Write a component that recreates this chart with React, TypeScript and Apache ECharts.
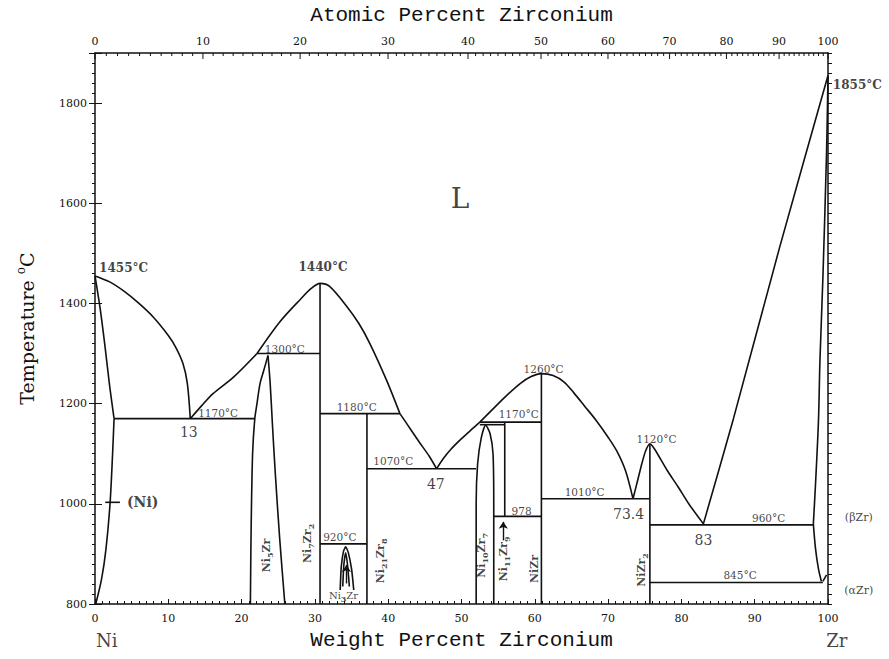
import React, { useEffect, useRef } from 'react';
import * as echarts from 'echarts';

const FONT = 'DejaVu Serif';
const TITLE_FONT = 'Liberation Mono';
const INK = '#111111';

// ---------- axes ----------
const WT_MIN = 0;
const WT_MAX = 100;
const T_MIN = 800;
const T_MAX = 1900;
const atomicTicks = Array.from({ length: 101 }, (_, i) => i); // 1 at.% tick marks on the top axis
const M_NI = 58.693;
const M_ZR = 91.224;
const atToWt = (a: number) => (a <= 0 ? 0 : a >= 100 ? 100 : (100 * a * M_ZR) / (a * M_ZR + (100 - a) * M_NI));

// ---------- phase boundaries: [wt.% Zr, °C] ----------
const niSolidus = [[0, 1455], [0.7, 1390], [1.4, 1310], [2.0, 1235], [2.6, 1170]];
const niSolvus = [[2.6, 1170], [2.4, 1100], [2.05, 1000], [1.5, 910], [0.9, 850], [0.1, 800]];
const liquidusNi = [[0, 1455], [2, 1443], [4, 1424], [6, 1400], [8, 1372], [10, 1336], [11, 1313], [12, 1280], [12.6, 1240], [13, 1170]];
const liquidusE13 = [[13, 1170], [14.5, 1195], [16.1, 1220], [18.9, 1253], [22.1, 1300]];
const liquidusNi7Zr2 = [[22.1, 1300], [25.2, 1363], [28, 1408], [29.5, 1430], [30.7, 1440], [32, 1434], [34.3, 1395], [36, 1360], [37.5, 1320], [39.8, 1246], [41.6, 1180]];
const liquidusE47L = [[41.6, 1180], [43, 1150], [44.3, 1122], [45.6, 1095], [46.6, 1070]];
const liquidusE47R = [[46.6, 1070], [47.5, 1090], [48.5, 1108], [50, 1130], [51.5, 1150], [52.5, 1163]];
const liquidusNiZr = [[52.5, 1163], [54, 1185], [56, 1214], [58, 1240], [59.5, 1254], [60.9, 1260], [62.5, 1256], [64, 1243], [65.3, 1222], [66.8, 1195], [68.4, 1166], [70, 1133], [71.2, 1105], [72.4, 1065], [73.4, 1010]];
const liquidusNiZr2 = [[73.4, 1010], [74, 1045], [74.6, 1080], [75.1, 1105], [75.7, 1120], [76.4, 1108], [78, 1068], [79.5, 1035], [81, 1000], [83, 960]];
const liquidusZr = [[83, 960], [87.1, 1170], [93.4, 1512], [100, 1855]];
const zrSolidus = [[100, 1855], [99.8, 1700], [99.3, 1450], [98.9, 1285], [98.7, 1166], [98.3, 1040], [98.0, 960]];
const zrSolvus = [[98.0, 960], [98.3, 910], [98.7, 870], [99.1, 845]];
const alphaZr = [[99.3, 845], [99.8, 858]];
const ni5ZrLeft = [[23.6, 1296], [23.0, 1265], [22.5, 1239], [22.1, 1200], [21.8, 1170], [21.5, 1100], [21.3, 950], [21.2, 800]];
const ni5ZrRight = [[23.6, 1296], [23.9, 1240], [24.2, 1160], [24.6, 1060], [25.2, 930], [25.9, 800]];
const ni10Zr7Dome = [[52.0, 800], [52.0, 1000], [52.2, 1080], [52.7, 1132], [53.3, 1157], [53.9, 1140], [54.3, 1100], [54.4, 1000], [54.4, 800]];
const ni3ZrOuter = [[33.45, 828], [33.6, 875], [33.9, 905], [34.2, 914], [34.55, 903], [35.0, 870], [35.3, 828]];
const ni3ZrInner = [[33.8, 835], [33.95, 878], [34.2, 902], [34.45, 878], [34.7, 835]];

// isotherms and line compounds
const straightLines = [
  [[2.6, 1170], [21.8, 1170]],
  [[22.1, 1300], [30.7, 1300]],
  [[30.7, 1180], [41.6, 1180]],
  [[37.1, 1070], [52.0, 1070]],
  [[30.7, 920], [37.1, 920]],
  [[52.5, 1163], [60.9, 1163]],
  [[52.5, 1158], [55.9, 1158]],
  [[54.4, 975], [60.9, 975]],
  [[60.9, 1010], [75.7, 1010]],
  [[75.7, 958], [98.0, 958]],
  [[75.7, 843], [99.3, 843]],
  [[30.7, 1440], [30.7, 800]],
  [[37.1, 1180], [37.1, 800]],
  [[55.9, 1163], [55.9, 975]],
  [[60.9, 1260], [60.9, 800]],
  [[75.7, 1120], [75.7, 800]],
  [[1.4, 1003], [3.4, 1003]],
];

// arrows: [wt, from °C, to °C]
const arrows = [[34.3, 841], [34.3, 878], [55.7, 927], [55.7, 964]];

// ---------- annotations ----------
const bigTempLabels = [['1455°C', 3.9, 1470], ['1440°C', 31.1, 1473], ['1855°C', 104.0, 1836]];
const tempLabels = [
  ['1300°C', 25.9, 1310], ['1170°C', 16.8, 1181],
  ['1180°C', 35.7, 1194], ['1070°C', 40.7, 1085], ['920°C', 33.4, 934], ['1260°C', 61.2, 1270],
  ['1170°C', 57.8, 1179], ['978', 58.2, 985], ['1010°C', 66.8, 1023], ['1120°C', 76.6, 1129],
  ['960°C', 91.9, 971], ['845°C', 88.0, 858],
];
const compLabels = [['13', 12.8, 1143], ['47', 46.5, 1039], ['73.4', 72.8, 980], ['83', 83.0, 927]];
const phaseLabels = [
  ['Ni{s|5}Zr', 23.4, 897], ['Ni{s|7}Zr{s|2}', 29.0, 921], ['Ni{s|21}Zr{s|8}', 38.9, 886],
  ['Ni{s|10}Zr{s|7}', 52.75, 897], ['Ni{s|11}Zr{s|9}', 55.7, 890], ['NiZr', 60.0, 870], ['NiZr{s|2}', 74.6, 868],
];
const sideLabels = [['(βZr)', 104.2, 973], ['(αZr)', 104.2, 826]];

const RICH = { s: { fontSize: 8, fontFamily: FONT, fontWeight: 'bold', color: INK, verticalAlign: 'bottom', lineHeight: 15 } };

function buildOption() {
  const lineStyle = { color: INK, width: 1.6 };
  const curve = (data: number[][], smooth: number | boolean = 0.3) => ({
    type: 'line', data, smooth, symbol: 'none', showSymbol: false, silent: true, clip: false,
    lineStyle, z: 3,
  });
  const series: any[] = [
    curve(niSolidus), curve(niSolvus), curve(liquidusNi, 0.3), curve(liquidusE13), curve(liquidusNi7Zr2),
    curve(liquidusE47L), curve(liquidusE47R), curve(liquidusNiZr), curve(liquidusNiZr2, 0.2), curve(liquidusZr, 0.2),
    curve(zrSolidus), curve(zrSolvus), curve(alphaZr, false), curve(ni5ZrLeft), curve(ni5ZrRight),
    curve(ni10Zr7Dome, 0.25), curve(ni3ZrOuter, 0.2), curve(ni3ZrInner, 0.2),
    ...straightLines.map((d) => curve(d, false)),
  ];
  series.push({
    type: 'line', data: [], silent: true,
    markLine: {
      silent: true, symbol: ['none', 'arrow'], symbolSize: 7, label: { show: false },
      lineStyle: { color: INK, width: 1.4, type: 'solid' },
      data: [
        [{ coord: [arrows[0][0], arrows[0][1]] }, { coord: [arrows[1][0], arrows[1][1]] }],
        [{ coord: [arrows[2][0], arrows[2][1]] }, { coord: [arrows[3][0], arrows[3][1]] }],
        [{ coord: [101.0, 826] }, { coord: [100.2, 826] }],
        [{ coord: [100, 973], symbol: 'none' }, { coord: [101.3, 973], symbol: 'none' }],
      ],
    },
  });
  // top axis (atomic percent) ticks
  series.push({
    type: 'custom', silent: true, clip: false, z: 5,
    data: atomicTicks.map((a) => [atToWt(a), a]),
    renderItem: (_p: any, api: any) => {
      const wt = api.value(0);
      const a = api.value(1);
      const pt = api.coord([wt, T_MAX]);
      const major = a % 10 === 0;
      const children: any[] = [
        { type: 'line', shape: { x1: pt[0], y1: pt[1], x2: pt[0], y2: pt[1] + (major ? 6 : 3) }, style: { stroke: INK, lineWidth: 1 } },
      ];
      if (major) {
        children.push({ type: 'text', x: pt[0], y: pt[1] - 6, style: { text: String(a), align: 'center', verticalAlign: 'bottom', fontSize: 11, fontFamily: FONT, fill: INK } });
      }
      return { type: 'group', children };
    },
  });
  const label = (text: string, wt: number, t: number, opts: any = {}) => ({
    value: [wt, t],
    label: {
      show: true, position: 'inside', formatter: text, color: INK, fontFamily: FONT,
      fontSize: 10, rich: RICH, ...opts,
    },
  });
  const annData = [
    label('L', 49.8, 1610, { fontSize: 28 }),
    ...bigTempLabels.map(([s, w, t]) => label(s as string, w as number, t as number, { fontSize: 12, fontWeight: 'bold' })),
    ...tempLabels.map(([s, w, t]) => label(s as string, w as number, t as number, { fontSize: 10.5 })),
    ...compLabels.map(([s, w, t]) => label(s as string, w as number, t as number, { fontSize: 14 })),
    ...phaseLabels.map(([s, w, t]) => label(s as string, w as number, t as number, { fontSize: 11, fontWeight: 'bold', rotate: 90, lineHeight: 15 })),
    label('Ni{s|3}Zr', 33.9, 816, { fontSize: 10, lineHeight: 13 }),
    label('(Ni)', 6.5, 1003, { fontSize: 14, fontWeight: 'bold' }),
    ...sideLabels.map(([s, w, t]) => label(s as string, w as number, t as number, { fontSize: 11 })),
    label('Ni', 1.6, 728, { fontSize: 18 }),
    label('Zr', 101.2, 728, { fontSize: 18 }),
  ];
  series.push({ type: 'scatter', symbolSize: 0, silent: true, clip: false, z: 6, data: annData });

  const axisFont = { fontSize: 11, fontFamily: FONT, color: INK };
  const nameFont = { fontSize: 21, fontFamily: TITLE_FONT, color: INK };
  const yBase = { type: 'value', min: T_MIN, max: T_MAX, splitLine: { show: false } };
  return {
    animation: false,
    backgroundColor: '#fff',
    grid: { left: 95, right: 61, top: 52, bottom: 55, containLabel: false },
    xAxis: [
      {
        type: 'value', position: 'bottom', min: WT_MIN, max: WT_MAX, interval: 10,
        axisLine: { show: true, onZero: false, lineStyle: { color: INK, width: 1.5 } },
        axisTick: { show: true, inside: true, length: 5, lineStyle: { color: INK } },
        minorTick: { show: true, splitNumber: 10, length: 3, lineStyle: { color: INK } },
        axisLabel: { ...axisFont, margin: 9 }, splitLine: { show: false },
        name: 'Weight Percent Zirconium', nameLocation: 'middle', nameGap: 26, nameTextStyle: nameFont,
      },
      {
        type: 'value', position: 'top', min: WT_MIN, max: WT_MAX,
        axisLine: { show: true, onZero: false, lineStyle: { color: INK, width: 1.5 } },
        axisTick: { show: false }, axisLabel: { show: false }, splitLine: { show: false },
        name: 'Atomic Percent Zirconium', nameLocation: 'middle', nameGap: 27, nameTextStyle: nameFont,
      },
    ],
    yAxis: [
      {
        ...yBase, position: 'left', interval: 20,
        axisLine: { show: true, onZero: false, lineStyle: { color: INK, width: 1.5 } },
        axisTick: { show: true, length: 3, lineStyle: { color: INK } },
        axisLabel: { ...axisFont, margin: 8, formatter: (v: number) => (v % 200 === 0 && v < T_MAX ? String(v) : '') },
        name: 'Temperature {o|o}C', nameLocation: 'middle', nameGap: 56, nameRotate: 90,
        nameTextStyle: { fontSize: 19, fontFamily: FONT, color: INK, rich: { o: { fontSize: 12, fontFamily: FONT, color: INK, verticalAlign: 'top', lineHeight: 24 } } },
      },
      {
        ...yBase, position: 'left', interval: 200,
        axisLine: { show: false }, axisTick: { show: true, length: 6, lineStyle: { color: INK } }, axisLabel: { show: false },
      },
      {
        ...yBase, position: 'right', interval: 20,
        axisLine: { show: true, onZero: false, lineStyle: { color: INK, width: 1.5 } },
        axisTick: { show: true, length: 4, lineStyle: { color: INK } }, axisLabel: { show: false },
      },
      {
        ...yBase, position: 'right', interval: 200,
        axisLine: { show: false }, axisTick: { show: true, length: 7, lineStyle: { color: INK } }, axisLabel: { show: false },
      },
    ],
    series,
  };
}

export default function App() {
  const ref = useRef<HTMLDivElement>(null);
  useEffect(() => {
    const chart = echarts.init(ref.current!, null, { renderer: 'svg' });
    chart.setOption(buildOption() as any);
    return () => chart.dispose();
  }, []);
  return <div ref={ref} style={{ position: 'fixed', left: 0, top: 0, width: 889, height: 659, background: '#fff' }} />;
}
